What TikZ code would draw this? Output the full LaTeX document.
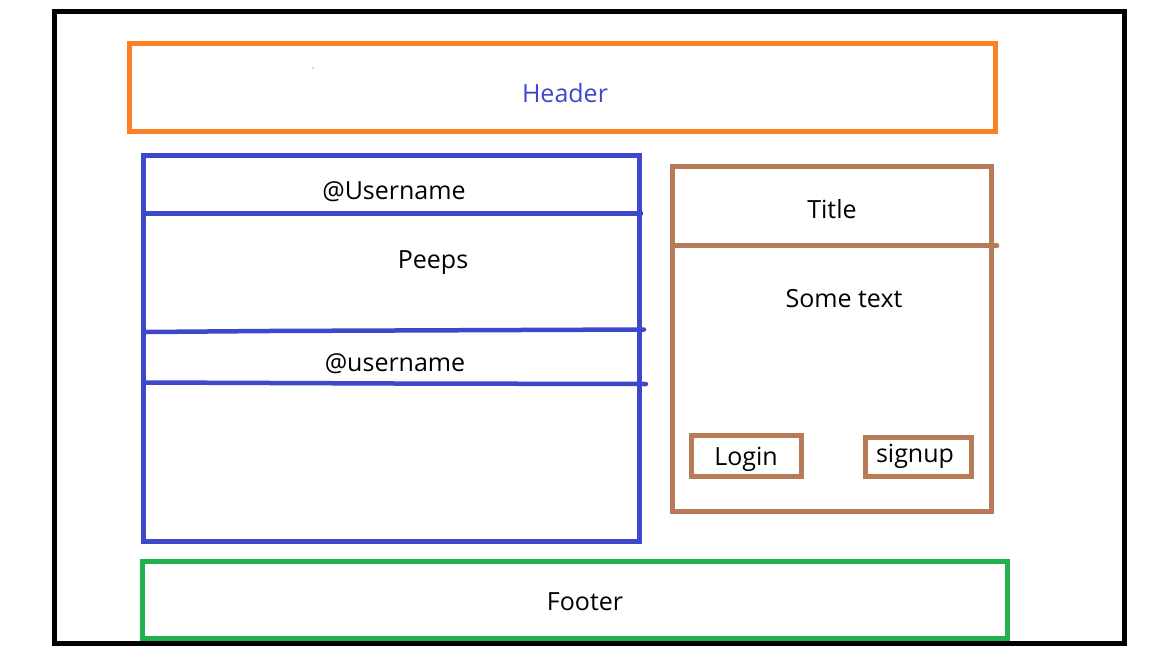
\documentclass[tikz,border=0pt]{standalone}
\usepackage{fontspec}
\setmainfont{Open Sans}
\definecolor{pborange}{HTML}{FF7F27}
\definecolor{pbblue}{HTML}{3F48CC}
\definecolor{pbbrown}{HTML}{B97A57}
\definecolor{pbgreen}{HTML}{22B14C}
\tikzset{
  frame/.style={draw=black, line width=5pt},
  box/.style={line width=5pt},
  sep/.style={line width=4.5pt, line cap=round},
  lbl/.style={font=\fontsize{25}{28}\selectfont, text=black, inner sep=0pt},
}
\begin{document}
\begin{tikzpicture}[x=1pt,y=-1pt]
\useasboundingbox (0,0) rectangle (1152,648);
\fill[white] (0,0) rectangle (1152,648);
% outer frame
\draw[frame] (54.5,11.5) rectangle (1124.5,643.5);
% header
\draw[box, draw=pborange] (129.5,43.5) rectangle (995.5,131.5);
\node[lbl, text=pbblue] (header) at (565,93) {Header};
\fill[pbblue] (313,68) circle (0.6);
% left panel
\draw[box, draw=pbblue] (143.5,155.5) rectangle (639,541);
\coordinate (s1a) at (146,213.5); \coordinate (s1b) at (641,213.5);
\coordinate (s2a) at (146,332); \coordinate (s2m) at (268,331); \coordinate (s2n) at (520,330); \coordinate (s2b) at (644,329.5);
\coordinate (s3a) at (146,382.5); \coordinate (s3m) at (395,383.5); \coordinate (s3b) at (646,384);
\draw[sep, pbblue] (s1a) -- (s1b);
\draw[sep, pbblue] (s2a) -- (s2m) -- (s2n) -- (s2b);
\draw[sep, pbblue] (s3a) -- (s3m) -- (s3b);
\node[lbl] (user1) at (394,192) {@Username};
\node[lbl] (peeps) at (433,263) {Peeps};
\node[lbl] (user2) at (395,364) {@username};
% right panel
\draw[box, draw=pbbrown] (672,166.5) rectangle (991.5,511);
\coordinate (t1a) at (672,245.5); \coordinate (t1b) at (997,245.5);
\draw[sep, pbbrown] (t1a) -- (t1b);
\node[lbl] (title) at (832,209) {Title};
\node[lbl] (sometext) at (844,299) {Some text};
\draw[box, draw=pbbrown] (691.5,435.5) rectangle (801.5,476);
\node[lbl] (login) at (746,459) {Login};
\draw[box, draw=pbbrown] (865.5,437.5) rectangle (971,476);
\node[lbl] (signup) at (915,456) {signup};
% footer
\draw[box, draw=pbgreen] (142.5,561.5) rectangle (1007,638);
\node[lbl] (footer) at (585,602) {Footer};
\end{tikzpicture}
\end{document}
